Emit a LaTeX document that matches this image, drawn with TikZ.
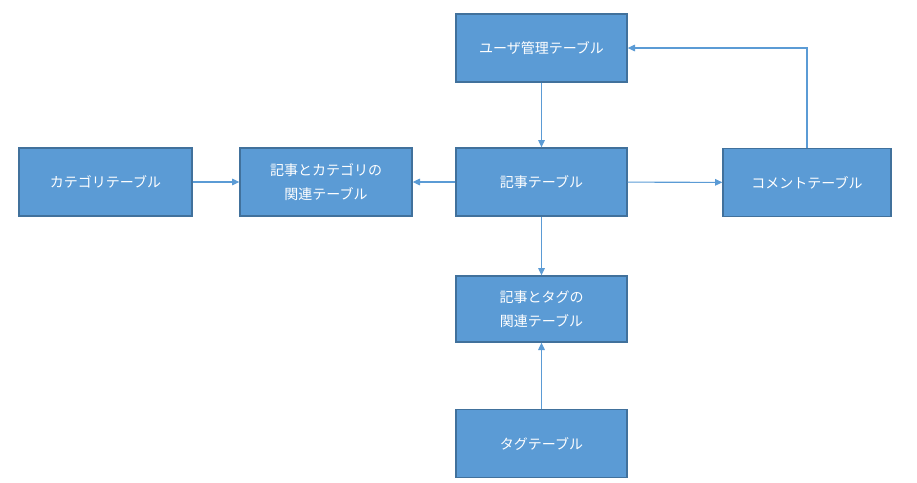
\documentclass[tikz,border=0pt]{standalone}
\usepackage{fontspec}
\newfontfamily\jp{Noto Sans CJK JP}
\usetikzlibrary{arrows.meta}
\definecolor{boxfill}{HTML}{5B9BD5}
\definecolor{boxline}{HTML}{41719C}
\begin{document}
\begin{tikzpicture}
	[x=0.75pt,y=-0.75pt,
	tbox/.style={rectangle,draw=boxline,line width=1pt,fill=boxfill,text=white,
		minimum width=128.25pt,minimum height=51pt,inner sep=0pt,align=center,
		font=\jp\fontsize{10.5}{18}\selectfont},
	link/.style={draw=boxfill,line width=0.8pt,-{Triangle[length=5.5pt,width=5pt]}}
	]
	\useasboundingbox (0,0) rectangle (917,482);
	\node[tbox] (user) at (541.5,48){ユーザ管理テーブル};
	\node[tbox,minimum width=129.75pt] (cat) at (105.5,182){カテゴリテーブル};
	\node[tbox,minimum width=129pt] (artcat) at (326,182){記事とカテゴリの\\関連テーブル};
	\node[tbox] (art) at (541.5,182){記事テーブル};
	\node[tbox,minimum width=126pt] (comment) at (807,182.5){コメントテーブル};
	\node[tbox,minimum height=49.5pt] (arttag) at (541.5,309){記事とタグの\\関連テーブル};
	\node[tbox] (tag) at (541.5,443.5){タグテーブル};

	\draw[link] (user) -- (art);
	\draw[link] (cat) -- (artcat);
	\draw[link] (art) -- (artcat);
	\draw[link] (art) -- (comment);
	\draw[link] (comment.north) |- (user.east);
	\draw[link] (art) -- (arttag);
	\draw[link] (tag) -- (arttag);
\end{tikzpicture}
\end{document}
